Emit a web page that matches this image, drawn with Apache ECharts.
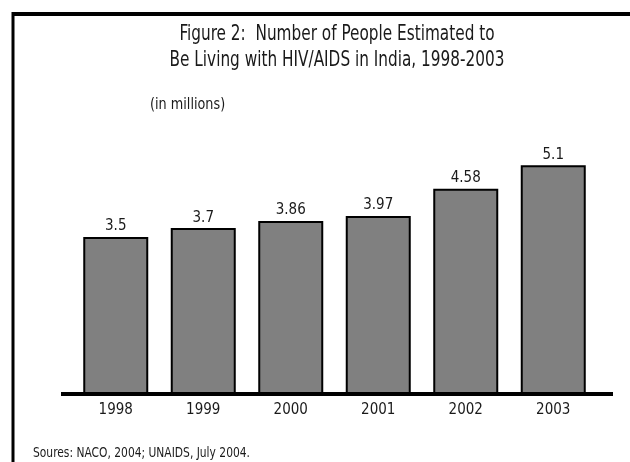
<!DOCTYPE html>
<html>
<head>
<meta charset="utf-8">
<script src="https://cdn.jsdelivr.net/npm/echarts@6/dist/echarts.min.js"></script>
<style>
  html, body { margin: 0; padding: 0; background: #fff; }
  #chart { width: 630px; height: 462px; }
</style>
</head>
<body>
<div id="chart"></div>
<script>
var years = ['1998', '1999', '2000', '2001', '2002', '2003'];
var peopleMillions = [3.5, 3.7, 3.86, 3.97, 4.58, 5.1];
var titleLines = ['Figure 2:  Number of People Estimated to', 'Be Living with HIV/AIDS in India, 1998-2003'];
var unitNote = '(in millions)';
var sourceNote = 'Soures: NACO, 2004; UNAIDS, July 2004.';

var FONT = '"Liberation Sans Narrow", "DejaVu Sans Condensed", "Noto Sans", sans-serif';
var chart = echarts.init(document.getElementById('chart'), null, { renderer: 'canvas' });

function txt(str, x, y, size, scaleX, align) {
  return {
    type: 'text', x: x, y: y, scaleX: scaleX, z: 100,
    style: {
      text: str, fill: '#1a1a1a',
      font: 'normal ' + size + 'px ' + FONT,
      align: align, verticalAlign: 'middle',
      textAlign: align, textVerticalAlign: 'middle'
    }
  };
}

var option = {
  backgroundColor: '#ffffff',
  animation: false,
  grid: { left: 72, right: 33, top: 125, bottom: 68 },
  xAxis: {
    type: 'category',
    data: years,
    axisLine: { show: false },
    axisTick: { show: false },
    axisLabel: { fontFamily: FONT, fontSize: 15, color: '#1a1a1a', margin: 9 }
  },
  yAxis: {
    type: 'value',
    min: 0,
    max: 6,
    show: false
  },
  series: [{
    type: 'bar',
    data: peopleMillions,
    barWidth: 65,
    itemStyle: { color: '#808080', borderColor: '#000', borderWidth: 2 },
    label: {
      show: true,
      position: 'top',
      distance: 3,
      fontFamily: FONT,
      fontSize: 15,
      color: '#1a1a1a'
    }
  }]
};
chart.setOption(option);

// decorative frame, texts and extended baseline, positioned from the chart's own scales
var base = chart.convertToPixel({ gridIndex: 0 }, [0, 0]);
var baseY = base[1];
var gridLeft = 72, gridRight = 630 - 33;
chart.setOption({
  graphic: [
    { type: 'line', shape: { x1: 13, y1: 12, x2: 13, y2: 462 }, style: { stroke: '#000', lineWidth: 3 } },
    { type: 'line', shape: { x1: 12, y1: 14, x2: 630, y2: 14 }, style: { stroke: '#000', lineWidth: 4 } },
    { type: 'line', shape: { x1: gridLeft - 11, y1: baseY, x2: gridRight + 16, y2: baseY }, style: { stroke: '#000', lineWidth: 4 }, z: 100 },
    txt(titleLines[0], 337, 35, 21, 0.81, 'center'),
    txt(titleLines[1], 337, 61, 21, 0.81, 'center'),
    txt(unitNote, 150, 105, 15, 0.95, 'left'),
    txt(sourceNote, 33, 453, 14, 0.85, 'left')
  ]
});
</script>
</body>
</html>
